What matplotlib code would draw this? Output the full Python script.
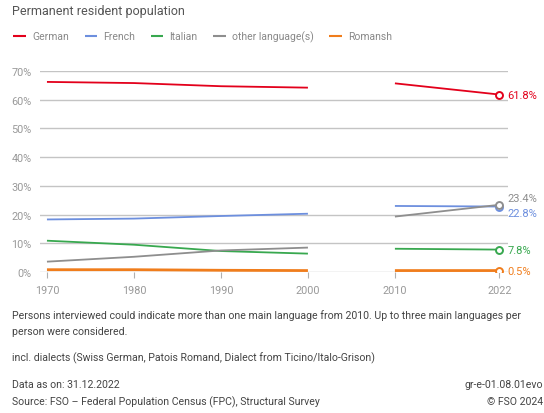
import numpy as np
import matplotlib
matplotlib.use("Agg")
import matplotlib.pyplot as plt

plt.rcParams['font.family'] = ['Roboto', 'DejaVu Sans']

# Data (share in %, gap between 2000 and 2010)
years = [1970, 1980, 1990, 2000, 2005, 2010, 2022]
german = [66.2, 65.8, 64.7, 64.2, np.nan, 65.7, 61.8]
french = [18.3, 18.6, 19.5, 20.3, np.nan, 23.0, 22.8]
italian = [10.9, 9.5, 7.3, 6.4, np.nan, 8.1, 7.8]
other = [3.6, 5.3, 7.5, 8.5, np.nan, 19.3, 23.4]
romansh = [0.8, 0.8, 0.6, 0.5, np.nan, 0.5, 0.5]

tick_years = [1970, 1980, 1990, 2000, 2010, 2022]
yticks = [0, 10, 20, 30, 40, 50, 60, 70]

series = [
    ("German", german, "#e3001b", 1.3),
    ("French", french, "#6d8fde", 1.3),
    ("Italian", italian, "#38a84f", 1.3),
    ("other language(s)", other, "#8e8e8e", 1.3),
    ("Romansh", romansh, "#f07d1c", 2.0),
]
# label offsets (points) for the end values
offsets = {"German": 0, "French": -5, "Italian": 0, "other language(s)": 5, "Romansh": 0}

fig = plt.figure(figsize=(5.44, 4.14), dpi=100)
ax = fig.add_axes([40 / 544, 1 - 273 / 414, 468 / 544, 201 / 414])

for y in yticks:
    ax.axhline(y, color="#c4c4c4", lw=1.0, zorder=1)

for name, vals, col, lw in series:
    ax.plot(years, vals, color=col, lw=lw, label=name, zorder=3, solid_capstyle="butt")
    ax.plot(years[-1], vals[-1], marker="o", ms=5, mfc="white", mec=col, mew=1.4,
            zorder=4, linestyle="none")
    ax.annotate(f"{vals[-1]:.1f}%", (years[-1], vals[-1]), xytext=(6, offsets[name]),
                textcoords="offset points", ha="left", va="center", color=col,
                fontsize=8, annotation_clip=False)

ax.set_xlim(1969.2, 2023.0)
ax.set_ylim(0, 70)
ax.set_yticks(yticks)
ax.set_yticklabels([f"{v}%" for v in yticks])
ax.set_xticks(tick_years)
ax.set_xticklabels([str(y) for y in tick_years])
ax.tick_params(axis="y", length=0, pad=6, labelsize=7.8, labelcolor="#999999")
ax.tick_params(axis="x", length=4, color="#b0b0b0", pad=5, labelsize=7.8,
               labelcolor="#999999")
for s in ax.spines.values():
    s.set_visible(False)

fig.text(12 / 544, 1 - 12 / 414, "Permanent resident population", fontsize=9,
         color="#555555", va="center", ha="left")
leg = fig.legend(loc="center left", bbox_to_anchor=(4 / 544, 1 - 37 / 414), ncol=5,
                 frameon=False, handlelength=1.2, handletextpad=0.6, columnspacing=1.5,
                 fontsize=7.5)
for t in leg.get_texts():
    t.set_color("#888888")
for h in leg.get_lines():
    h.set_linewidth(1.5)

foot = "#444444"
fs = 7.6
fig.text(12 / 544, 1 - 316 / 414, "Persons interviewed could indicate more than one main language from 2010. Up to three main languages per",
         fontsize=fs, color=foot, va="center")
fig.text(12 / 544, 1 - 332 / 414, "person were considered.", fontsize=fs, color=foot, va="center")
fig.text(12 / 544, 1 - 358 / 414, "incl. dialects (Swiss German, Patois Romand, Dialect from Ticino/Italo-Grison)",
         fontsize=fs, color=foot, va="center")
fig.text(12 / 544, 1 - 385 / 414, "Data as on: 31.12.2022", fontsize=fs, color=foot, va="center")
fig.text(12 / 544, 1 - 402 / 414, "Source: FSO \u2013 Federal Population Census (FPC), Structural Survey",
         fontsize=fs, color=foot, va="center")
fig.text(543 / 544, 1 - 385 / 414, "gr-e-01.08.01evo", fontsize=fs, color=foot, va="center", ha="right")
fig.text(543 / 544, 1 - 402 / 414, "\u00a9 FSO 2024", fontsize=fs, color=foot, va="center", ha="right")

fig.savefig("out.png", dpi=100)
